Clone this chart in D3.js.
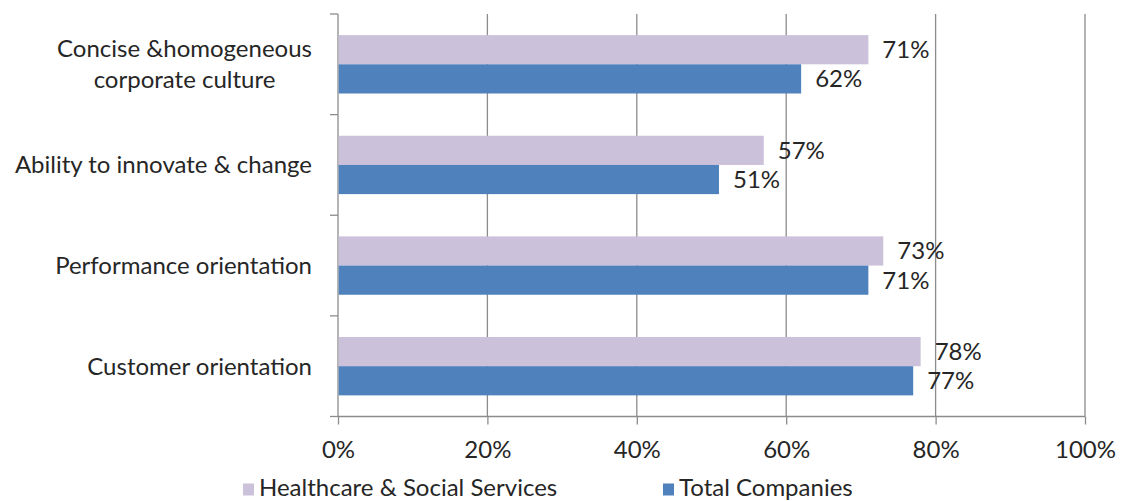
<!DOCTYPE html>
<html>
<head>
<meta charset="utf-8">
<script src="https://cdn.jsdelivr.net/npm/d3@7"></script>
<style>
html,body{margin:0;padding:0;background:#fff;}
svg{display:block;}
text{font-family:Lato,"Open Sans",sans-serif;fill:#262626;}
</style>
</head>
<body>
<svg id="chart" width="1121" height="501"></svg>
<script>
const categories = [
  ["Concise &homogeneous", "corporate culture"],
  ["Ability to innovate & change"],
  ["Performance orientation"],
  ["Customer orientation"]
];
const seriesNames = ["Healthcare & Social Services", "Total Companies"];
const healthcare = [71, 57, 73, 78];
const totalCompanies = [62, 51, 71, 77];
const xTicks = [0, 20, 40, 60, 80, 100];
const colors = ["#CCC1DA", "#4F81BD"];

(function () {
const svg = d3.select("#chart");
const fs = 24;
const pLeft = 338, pRight = 1085, pTop = 14, pBottom = 416.5;

const x = d3.scaleLinear().domain([0, 100]).range([pLeft, pRight]);
const keys = categories.map((c, i) => i);
const y = d3.scaleBand().domain(keys).range([pTop, pBottom]).paddingInner(0.42).paddingOuter(0.21);
const inner = d3.scaleBand().domain([0, 1]).range([0, y.bandwidth()]);
const yb = d3.scaleBand().domain(keys).range([pTop, pBottom]);

// gridlines
svg.append("g").selectAll("line").data(xTicks.slice(1)).join("line")
  .attr("x1", d => x(d)).attr("x2", d => x(d))
  .attr("y1", pTop).attr("y2", pBottom)
  .attr("stroke", "#8c8c8c").attr("stroke-width", 1.3);

// x axis
const xAxis = d3.axisBottom(x).tickValues(xTicks).tickFormat(d => d + "%").tickSize(8).tickPadding(16);
const gx = svg.append("g").attr("transform", `translate(0,${pBottom})`).call(xAxis);
gx.select(".domain").attr("stroke", "#8c8c8c").attr("stroke-width", 1.3).attr("d", `M${pLeft},0H${pRight}`);
gx.selectAll(".tick line").attr("stroke", "#8c8c8c").attr("stroke-width", 1.3);
gx.selectAll(".tick text").attr("font-size", fs).attr("font-family", "Lato").attr("fill", "#262626");

// y axis ticks at band boundaries
const bounds = keys.map(k => yb(k)).concat([pBottom]);
svg.append("g").selectAll("line").data(bounds).join("line")
  .attr("x1", pLeft - 8).attr("x2", pLeft).attr("y1", d => d).attr("y2", d => d)
  .attr("stroke", "#8c8c8c").attr("stroke-width", 1.3);
svg.append("line").attr("x1", pLeft).attr("x2", pLeft).attr("y1", pTop).attr("y2", pBottom)
  .attr("stroke", "#8c8c8c").attr("stroke-width", 1.3);

// bars
const series = [healthcare, totalCompanies];
series.forEach((vals, si) => {
  const g = svg.append("g");
  g.selectAll("rect").data(vals).join("rect")
    .attr("x", x(0) + 0.7)
    .attr("y", (d, i) => y(i) + inner(si))
    .attr("width", d => x(d) - x(0) - 0.7)
    .attr("height", inner.bandwidth())
    .attr("fill", colors[si]);
  g.selectAll("text").data(vals).join("text")
    .attr("x", d => x(d) + 14)
    .attr("y", (d, i) => y(i) + inner(si) + inner.bandwidth() / 2)
    .attr("dy", "0.35em")
    .attr("font-size", fs)
    .text(d => d + "%");
});

// category labels
const cl = svg.append("g");
const labelRight = 312;
categories.forEach((lines, i) => {
  const cy = yb(i) + yb.bandwidth() / 2;
  const lh = 31;
  const t = cl.append("text").attr("font-size", fs);
  lines.forEach((ln, j) => {
    t.append("tspan")
      .attr("y", cy + (j - (lines.length - 1) / 2) * lh)
      .attr("dy", "0.35em").text(ln);
  });
  if (lines.length > 1) {
    const maxW = d3.max(t.selectAll("tspan").nodes(), n => n.getComputedTextLength());
    t.attr("text-anchor", "middle");
    t.selectAll("tspan").attr("x", labelRight - maxW / 2);
  } else {
    t.attr("text-anchor", "end");
    t.selectAll("tspan").attr("x", labelRight);
  }
});

// legend
const legX = [243, 663];
const lg = svg.append("g");
seriesNames.forEach((n, i) => {
  lg.append("rect").attr("x", legX[i]).attr("y", 483.5).attr("width", 11).attr("height", 12).attr("fill", colors[i]);
  lg.append("text").attr("x", legX[i] + 16).attr("y", 487.5).attr("dy", "0.35em").attr("font-size", fs).text(n);
});
})();
</script>
</body>
</html>
